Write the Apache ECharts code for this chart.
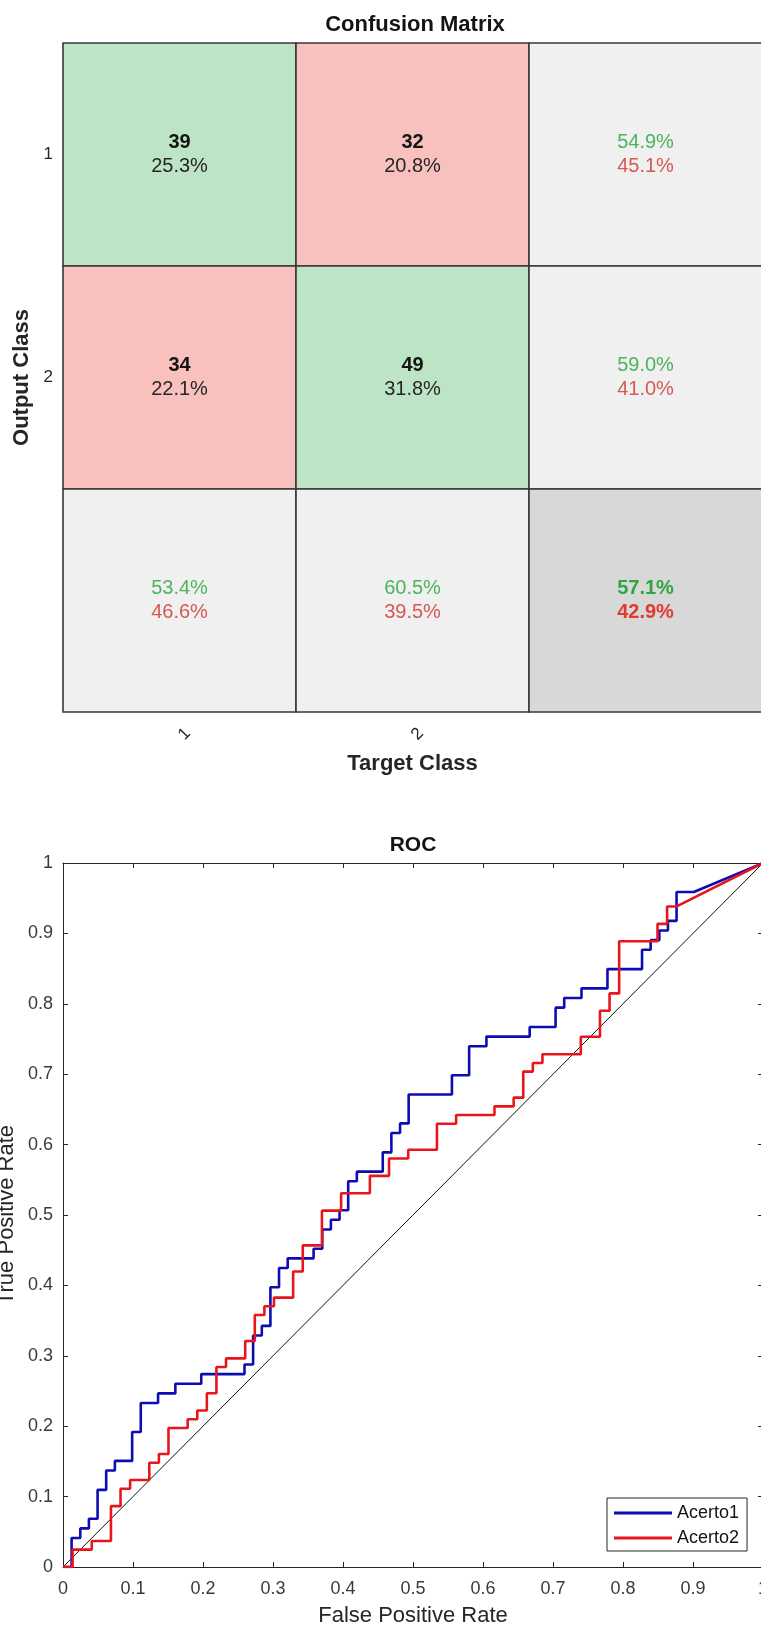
<!DOCTYPE html>
<html>
<head>
<meta charset="utf-8">
<script src="https://cdn.jsdelivr.net/npm/echarts@6/dist/echarts.min.js"></script>
<style>
html,body{margin:0;padding:0;background:#fff;}
#chart{width:761px;height:1627px;}
</style>
</head>
<body>
<div id="chart"></div>
<script>
// ---------------- DATA ----------------
const classLabels = ['1', '2'];
const counts = [[39, 32], [34, 49]];
const cellPercents = [[25.3, 20.8], [22.1, 31.8]];
const rowCorrectPct = [54.9, 59.0];
const rowWrongPct = [45.1, 41.0];
const colCorrectPct = [53.4, 60.5];
const colWrongPct = [46.6, 39.5];
const overallCorrectPct = 57.1;
const overallWrongPct = 42.9;

const rocTickLabels = ['0', '0.1', '0.2', '0.3', '0.4', '0.5', '0.6', '0.7', '0.8', '0.9', '1'];
const seriesNames = ['Acerto1', 'Acerto2'];

// ROC curve vertices [false positive rate, true positive rate]
const acerto1 = [
  [0,0],[0.0123,0],[0.0123,0.0411],[0.0247,0.0411],[0.0247,0.0548],[0.0370,0.0548],[0.0370,0.0685],
  [0.0494,0.0685],[0.0494,0.1096],[0.0617,0.1096],[0.0617,0.1370],[0.0741,0.1370],[0.0741,0.1507],
  [0.0988,0.1507],[0.0988,0.1918],[0.1111,0.1918],[0.1111,0.2329],[0.1358,0.2329],[0.1358,0.2466],
  [0.1605,0.2466],[0.1605,0.2603],[0.1975,0.2603],[0.1975,0.2740],[0.2593,0.2740],[0.2593,0.2877],
  [0.2716,0.2877],[0.2716,0.3288],[0.2840,0.3288],[0.2840,0.3425],[0.2963,0.3425],[0.2963,0.3973],
  [0.3086,0.3973],[0.3086,0.4247],[0.3210,0.4247],[0.3210,0.4384],[0.3580,0.4384],[0.3580,0.4521],
  [0.3704,0.4521],[0.3704,0.4795],[0.3827,0.4795],[0.3827,0.4932],[0.3951,0.4932],[0.3951,0.5068],
  [0.4074,0.5068],[0.4074,0.5479],[0.4198,0.5479],[0.4198,0.5616],[0.4568,0.5616],[0.4568,0.5890],
  [0.4691,0.5890],[0.4691,0.6164],[0.4815,0.6164],[0.4815,0.6301],[0.4938,0.6301],[0.4938,0.6712],
  [0.5556,0.6712],[0.5556,0.6986],[0.5802,0.6986],[0.5802,0.7397],[0.6049,0.7397],[0.6049,0.7534],
  [0.6667,0.7534],[0.6667,0.7671],[0.7037,0.7671],[0.7037,0.7945],[0.7160,0.7945],[0.7160,0.8082],
  [0.7407,0.8082],[0.7407,0.8219],[0.7778,0.8219],[0.7778,0.8493],[0.8272,0.8493],[0.8272,0.8767],
  [0.8395,0.8767],[0.8395,0.8904],[0.8519,0.8904],[0.8519,0.9041],[0.8642,0.9041],[0.8642,0.9178],
  [0.8765,0.9178],[0.8765,0.9589],[0.9012,0.9589],[1,1]
];
const acerto2 = [
  [0,0],[0.0137,0],[0.0137,0.0247],[0.0411,0.0247],[0.0411,0.0370],[0.0685,0.0370],[0.0685,0.0864],
  [0.0822,0.0864],[0.0822,0.1111],[0.0959,0.1111],[0.0959,0.1235],[0.1233,0.1235],[0.1233,0.1481],
  [0.1370,0.1481],[0.1370,0.1605],[0.1507,0.1605],[0.1507,0.1975],[0.1781,0.1975],[0.1781,0.2099],
  [0.1918,0.2099],[0.1918,0.2222],[0.2055,0.2222],[0.2055,0.2469],[0.2192,0.2469],[0.2192,0.2840],
  [0.2329,0.2840],[0.2329,0.2963],[0.2603,0.2963],[0.2603,0.3210],[0.2740,0.3210],[0.2740,0.3580],
  [0.2877,0.3580],[0.2877,0.3704],[0.3014,0.3704],[0.3014,0.3827],[0.3288,0.3827],[0.3288,0.4198],
  [0.3425,0.4198],[0.3425,0.4568],[0.3699,0.4568],[0.3699,0.5062],[0.3973,0.5062],[0.3973,0.5309],
  [0.4384,0.5309],[0.4384,0.5556],[0.4658,0.5556],[0.4658,0.5802],[0.4932,0.5802],[0.4932,0.5926],
  [0.5342,0.5926],[0.5342,0.6296],[0.5616,0.6296],[0.5616,0.6420],[0.6164,0.6420],[0.6164,0.6543],
  [0.6438,0.6543],[0.6438,0.6667],[0.6575,0.6667],[0.6575,0.7037],[0.6712,0.7037],[0.6712,0.7160],
  [0.6849,0.7160],[0.6849,0.7284],[0.7397,0.7284],[0.7397,0.7531],[0.7671,0.7531],[0.7671,0.7901],
  [0.7808,0.7901],[0.7808,0.8148],[0.7945,0.8148],[0.7945,0.8889],[0.8493,0.8889],[0.8493,0.9136],
  [0.8630,0.9136],[0.8630,0.9383],[0.8767,0.9383],[1,1]
];
const chanceLine = [[0,0],[1,1]];

// ---------------- STYLE ----------------
const FONT = '"Liberation Sans", Arial, Helvetica, sans-serif';
const AX = '#262626';
const GREEN_FILL = '#bde5c5', RED_FILL = '#f8c1bd', GRAY_FILL = '#f0f0f0', DARK_GRAY_FILL = '#d8d8d8';
const GREEN_TXT = '#4db35d', RED_TXT = '#d45a52';
const GREEN_BOLD = '#2fa540', RED_BOLD = '#e0392e';

const pct = v => v.toFixed(1) + '%';

// Build matrix cells
const cmCells = [];
for (let r = 0; r < 3; r++) {
  for (let c = 0; c < 3; c++) {
    let cell;
    if (r < 2 && c < 2) {
      cell = { fill: r === c ? GREEN_FILL : RED_FILL,
        t1: String(counts[r][c]), t2: pct(cellPercents[r][c]),
        c1: '#141414', c2: '#262626', w1: 'bold', w2: 'normal' };
    } else if (r < 2) {
      cell = { fill: GRAY_FILL, t1: pct(rowCorrectPct[r]), t2: pct(rowWrongPct[r]),
        c1: GREEN_TXT, c2: RED_TXT, w1: 'normal', w2: 'normal' };
    } else if (c < 2) {
      cell = { fill: GRAY_FILL, t1: pct(colCorrectPct[c]), t2: pct(colWrongPct[c]),
        c1: GREEN_TXT, c2: RED_TXT, w1: 'normal', w2: 'normal' };
    } else {
      cell = { fill: DARK_GRAY_FILL, t1: pct(overallCorrectPct), t2: pct(overallWrongPct),
        c1: GREEN_BOLD, c2: RED_BOLD, w1: 'bold', w2: 'bold' };
    }
    cell.value = [c, r];
    cmCells.push(cell);
  }
}

const chart = echarts.init(document.getElementById('chart'), null, { renderer: 'canvas' });

const valueTickFmt = v => rocTickLabels[Math.round(v * 10)];

const option = {
  animation: false,
  backgroundColor: '#ffffff',
  textStyle: { fontFamily: FONT },
  title: [
    { text: 'Confusion Matrix', left: 415, top: 13.5, padding: 0, textAlign: 'center', textVerticalAlign: 'top',
      textStyle: { fontFamily: FONT, fontSize: 22, fontWeight: 'bold', color: '#141414', lineHeight: 22 } },
    { text: 'ROC', left: 413, top: 834.5, padding: 0, textAlign: 'center', textVerticalAlign: 'top',
      textStyle: { fontFamily: FONT, fontSize: 21, fontWeight: 'bold', color: '#141414', lineHeight: 21 } }
  ],
  legend: {
    data: seriesNames,
    orient: 'vertical',
    left: 607, top: 1498,
    icon: 'rect',
    itemWidth: 58, itemHeight: 3,
    itemGap: 5,
    padding: [5, 8, 3, 7],
    borderColor: AX, borderWidth: 1,
    backgroundColor: '#ffffff',
    textStyle: { fontFamily: FONT, fontSize: 18, color: '#141414', lineHeight: 20 }
  },
  grid: [
    { left: 63, top: 43, width: 699, height: 669, containLabel: false, outerBoundsMode: 'none' },
    { left: 63, top: 863, width: 700, height: 704, containLabel: false, outerBoundsMode: 'none' }
  ],
  xAxis: [
    { type: 'category', gridIndex: 0, data: classLabels.concat(['']),
      axisLine: { show: false }, axisTick: { show: false }, splitLine: { show: false },
      axisLabel: { interval: 0, rotate: 45, align: 'center', verticalAlign: 'middle', padding: [0, 0, 0, 14],
        margin: 27, fontSize: 17, color: AX, fontFamily: FONT },
      name: 'Target Class', nameLocation: 'middle', nameGap: 41, nameMoveOverlap: false,
      nameTextStyle: { fontFamily: FONT, fontSize: 22, fontWeight: 'bold', color: AX, lineHeight: 22 } },
    { type: 'value', gridIndex: 1, min: 0, max: 1, interval: 0.1, position: 'bottom',
      axisLine: { show: true, onZero: false, lineStyle: { color: AX, width: 1 } },
      axisTick: { show: true, inside: true, length: 5, lineStyle: { color: AX, width: 1 } },
      splitLine: { show: false },
      axisLabel: { formatter: valueTickFmt, fontSize: 18, color: '#3a3a3a', margin: 13, fontFamily: FONT, lineHeight: 18 },
      name: 'False Positive Rate', nameLocation: 'middle', nameGap: 38, nameMoveOverlap: false,
      nameTextStyle: { fontFamily: FONT, fontSize: 22, color: AX, lineHeight: 22 } },
    { type: 'value', gridIndex: 1, min: 0, max: 1, interval: 0.1, position: 'top',
      axisLine: { show: true, onZero: false, lineStyle: { color: AX, width: 1 } },
      axisTick: { show: true, inside: true, length: 5, lineStyle: { color: AX, width: 1 } },
      splitLine: { show: false }, axisLabel: { show: false } }
  ],
  yAxis: [
    { type: 'category', gridIndex: 0, data: classLabels.concat(['']), inverse: true,
      axisLine: { show: false }, axisTick: { show: false }, splitLine: { show: false },
      axisLabel: { interval: 0, margin: 10, fontSize: 17, color: AX, fontFamily: FONT },
      name: 'Output Class', nameLocation: 'middle', nameGap: 30, nameRotate: 90, nameMoveOverlap: false,
      nameTextStyle: { fontFamily: FONT, fontSize: 22, fontWeight: 'bold', color: AX, lineHeight: 22 } },
    { type: 'value', gridIndex: 1, min: 0, max: 1, interval: 0.1, position: 'left',
      axisLine: { show: true, onZero: false, lineStyle: { color: AX, width: 1 } },
      axisTick: { show: true, inside: true, length: 5, lineStyle: { color: AX, width: 1 } },
      splitLine: { show: false },
      axisLabel: { formatter: valueTickFmt, fontSize: 18, color: '#3a3a3a', margin: 10, fontFamily: FONT },
      name: 'True Positive Rate', nameLocation: 'middle', nameGap: 45, nameRotate: 90, nameMoveOverlap: false,
      nameTextStyle: { fontFamily: FONT, fontSize: 22, color: AX, lineHeight: 22 } },
    { type: 'value', gridIndex: 1, min: 0, max: 1, interval: 0.1, position: 'right',
      axisLine: { show: true, onZero: false, lineStyle: { color: AX, width: 1 } },
      axisTick: { show: true, inside: true, length: 5, lineStyle: { color: AX, width: 1 } },
      splitLine: { show: false }, axisLabel: { show: false } }
  ],
  series: [
    {
      type: 'custom',
      name: 'matrix',
      xAxisIndex: 0, yAxisIndex: 0,
      silent: true,
      data: cmCells.map(d => d.value),
      encode: { x: 0, y: 1 },
      renderItem: function (params, api) {
        const cell = cmCells[params.dataIndex];
        const center = api.coord([api.value(0), api.value(1)]);
        const size = api.size([1, 1]);
        return {
          type: 'group',
          children: [
            { type: 'rect',
              shape: { x: center[0] - size[0] / 2, y: center[1] - size[1] / 2, width: size[0], height: size[1] },
              style: { fill: cell.fill, stroke: '#383838', lineWidth: 1.6 } },
            { type: 'text', x: center[0], y: center[1] - 12,
              style: { text: cell.t1, fill: cell.c1, fontSize: 20, fontWeight: cell.w1, fontFamily: FONT,
                align: 'center', verticalAlign: 'middle' } },
            { type: 'text', x: center[0], y: center[1] + 12,
              style: { text: cell.t2, fill: cell.c2, fontSize: 20, fontWeight: cell.w2, fontFamily: FONT,
                align: 'center', verticalAlign: 'middle' } }
          ]
        };
      }
    },
    {
      type: 'line', name: 'chance', xAxisIndex: 1, yAxisIndex: 1,
      data: chanceLine, symbol: 'none', silent: true,
      lineStyle: { color: '#111111', width: 1 }, itemStyle: { color: '#111111' }
    },
    {
      type: 'line', name: seriesNames[0], xAxisIndex: 1, yAxisIndex: 1,
      data: acerto1, symbol: 'none', showSymbol: false,
      lineStyle: { color: '#0c0cb2', width: 2.6 }, itemStyle: { color: '#0c0cb2' }
    },
    {
      type: 'line', name: seriesNames[1], xAxisIndex: 1, yAxisIndex: 1,
      data: acerto2, symbol: 'none', showSymbol: false,
      lineStyle: { color: '#e8161c', width: 2.6 }, itemStyle: { color: '#e8161c' }
    }
  ]
};

chart.setOption(option);
</script>
</body>
</html>
